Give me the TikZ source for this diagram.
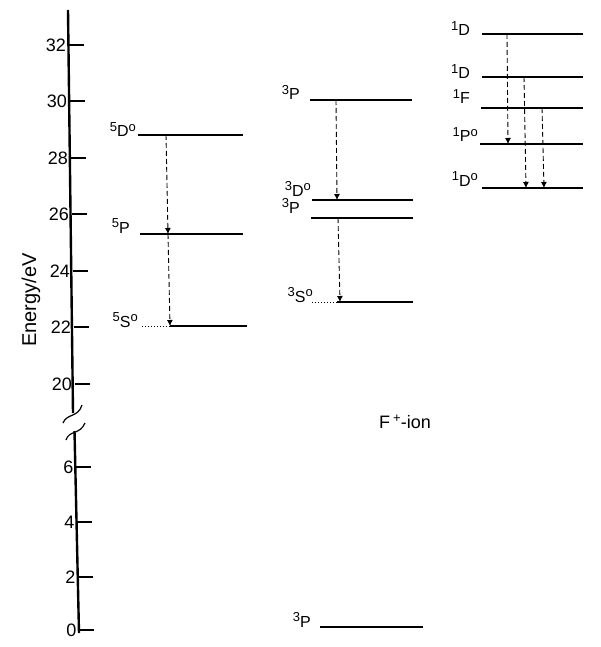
\documentclass[tikz,border=0pt]{standalone}
\usepackage{fontspec}
\setmainfont{Liberation Sans}
\usetikzlibrary{arrows.meta}
\newcommand{\sps}[1]{\raisebox{0.6ex}{\fontsize{13}{13}\selectfont #1}}
\begin{document}
\begin{tikzpicture}[x=1pt,y=-1pt,
  lvthick/.style={line width=2.6pt},
  lvmed/.style={line width=1.9pt},
  lvthin/.style={line width=1.4pt},
  lvdot/.style={line width=1pt, dotted},
  axisline/.style={line width=2.4pt},
  tickline/.style={line width=1.2pt},
  trans/.style={dash pattern=on 5pt off 3pt, line width=0.9pt, -{Latex[length=6pt,width=6pt]}},
  ticklab/.style={anchor=east, font=\fontsize{18}{18}\selectfont, inner sep=1pt},
  lab/.style={anchor=base east, font=\fontsize{16}{16}\selectfont, inner sep=0pt}]
\useasboundingbox (0,0) rectangle (600,647);

% axis
\coordinate (axtop) at (68,10);
\coordinate (axbrk1) at (73,413);
\coordinate (axbrk2) at (74.5,431);
\coordinate (axbot) at (79,633);
\draw[axisline] (axtop) -- (axbrk1);
\draw[axisline] (axbrk2) -- (axbot);
\draw[line width=1.2pt] (63,423) .. controls (67,413) and (78,418) .. (82,405);
\draw[line width=1.2pt] (66,440) .. controls (69,430) and (80,435) .. (85,423);

\foreach \v/\y/\x in {32/45/68.6, 30/101/69.6, 28/158/70.6, 26/214/71.6, 24/271/72.6, 22/327/73.6, 20/384/74.6, 6/467/76, 4/522/77, 2/577/78, 0/630/79}{
  \draw[tickline] (\x,\y) -- (\x+15,\y);
  \node[ticklab] (t\v) at (\x-1.5,\y) {\v};
}

\node[rotate=90, font=\fontsize{20}{20}\selectfont] (elab) at (31,300) {Energy/eV};

% left column
\coordinate (a5Dl) at (138,135); \coordinate (a5Dr) at (243,135);
\coordinate (a5Pl) at (140,234); \coordinate (a5Pr) at (243,234);
\coordinate (a5Sd) at (142,326); \coordinate (a5Sl) at (170,326); \coordinate (a5Sr) at (247,326);
\draw[lvthick] (a5Dl) -- (a5Dr);
\draw[lvthick] (a5Pl) -- (a5Pr);
\draw[lvdot] (a5Sd) -- (a5Sl);
\draw[lvthick] (a5Sl) -- (a5Sr);
\node[lab] (l5D) at (136,137) {\sps{5}D\sps{o}};
\node[lab] (l5P) at (130,233) {\sps{5}P};
\node[lab] (l5S) at (138,327) {\sps{5}S\sps{o}};
\coordinate (t1s) at (166,135); \coordinate (t1e) at (168,234);
\coordinate (t2s) at (168,234); \coordinate (t2e) at (170,326);
\draw[trans] (t1s) -- (t1e);
\draw[trans] (t2s) -- (t2e);

% middle column
\coordinate (m3Pl) at (310,100); \coordinate (m3Pr) at (412,100);
\coordinate (m3Dl) at (312,200); \coordinate (m3Dr) at (413,200);
\coordinate (m3Ql) at (311,218); \coordinate (m3Qr) at (413,218);
\coordinate (m3Sd) at (312,302); \coordinate (m3Sl) at (337,302); \coordinate (m3Sr) at (413,302);
\coordinate (g3Pl) at (320,627); \coordinate (g3Pr) at (423,627);
\draw[lvthin] (m3Pl) -- (m3Pr);
\draw[lvthick] (m3Dl) -- (m3Dr);
\draw[lvthick] (m3Ql) -- (m3Qr);
\draw[lvdot] (m3Sd) -- (m3Sl);
\draw[lvmed] (m3Sl) -- (m3Sr);
\draw[lvmed] (g3Pl) -- (g3Pr);
\node[lab] (l3P) at (300,100) {\sps{3}P};
\node[lab] (l3D) at (311,196) {\sps{3}D\sps{o}};
\node[lab] (l3Q) at (300,213) {\sps{3}P};
\node[lab] (l3S) at (313,302) {\sps{3}S\sps{o}};
\node[lab] (lg3P) at (311,627) {\sps{3}P};
\coordinate (t3s) at (336,100); \coordinate (t3e) at (337,200);
\coordinate (t4s) at (338,218); \coordinate (t4e) at (340,302);
\draw[trans] (t3s) -- (t3e);
\draw[trans] (t4s) -- (t4e);

\node[font=\fontsize{18}{18}\selectfont, inner sep=0pt] (ion) at (405,422) {F\,\sps{+}-ion};

% right column
\coordinate (r1Dl) at (482,34); \coordinate (r1Dr) at (583,34);
\coordinate (r2Dl) at (482,77); \coordinate (r2Dr) at (583,77);
\coordinate (r1Fl) at (481,108); \coordinate (r1Fr) at (583,108);
\coordinate (r1Pl) at (480,144); \coordinate (r1Pr) at (583,144);
\coordinate (r3Dl) at (482,188); \coordinate (r3Dr) at (583,188);
\draw[lvthick] (r1Dl) -- (r1Dr);
\draw[lvthick] (r2Dl) -- (r2Dr);
\draw[lvthick] (r1Fl) -- (r1Fr);
\draw[lvmed] (r1Pl) -- (r1Pr);
\draw[lvmed] (r3Dl) -- (r3Dr);
\node[lab] (lr1D) at (470,36) {\sps{1}D};
\node[lab] (lr2D) at (470,79) {\sps{1}D};
\node[lab] (lr1F) at (470,104) {\sps{1}F};
\node[lab] (lr1P) at (478,142) {\sps{1}P\sps{o}};
\node[lab] (lr3D) at (478,186) {\sps{1}D\sps{o}};
\coordinate (t5s) at (507,34); \coordinate (t5e) at (508,144);
\coordinate (t6s) at (524,77); \coordinate (t6e) at (526,188);
\coordinate (t7s) at (542,108); \coordinate (t7e) at (544,188);
\draw[trans] (t5s) -- (t5e);
\draw[trans] (t6s) -- (t6e);
\draw[trans] (t7s) -- (t7e);
\end{tikzpicture}
\end{document}
